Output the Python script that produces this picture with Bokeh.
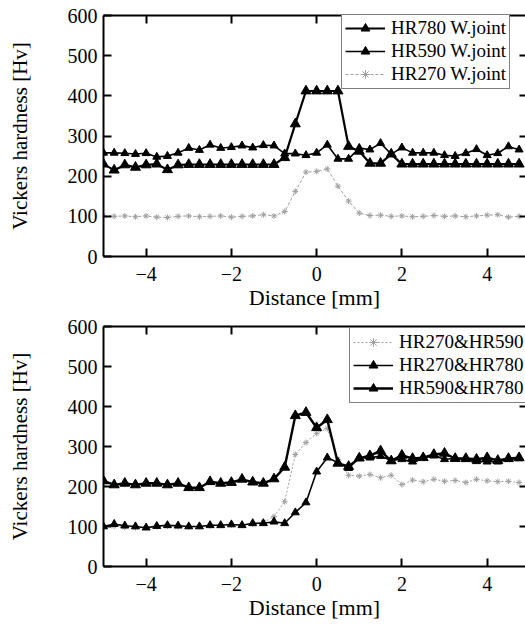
from bokeh.plotting import figure
from bokeh.layouts import column
from bokeh.models import Range1d, FixedTicker, LinearAxis
from bokeh.embed import file_html
from bokeh.resources import INLINE

distance = [-5.0, -4.75, -4.5, -4.25, -4.0, -3.75, -3.5, -3.25, -3.0, -2.75,
            -2.5, -2.25, -2.0, -1.75, -1.5, -1.25, -1.0, -0.75, -0.5, -0.25,
            0.0, 0.25, 0.5, 0.75, 1.0, 1.25, 1.5, 1.75, 2.0, 2.25,
            2.5, 2.75, 3.0, 3.25, 3.5, 3.75, 4.0, 4.25, 4.5, 4.75]

# Top panel: welded joints of the same steel
hr780_joint = [230, 215, 228, 222, 228, 230, 216, 228, 229, 229,
               229, 229, 229, 229, 229, 229, 229, 246, 330, 412,
               412, 412, 412, 274, 262, 232, 232, 255, 230, 230,
               230, 230, 230, 230, 230, 230, 230, 230, 230, 230]
hr590_joint = [258, 258, 257, 255, 257, 248, 250, 258, 270, 265,
               278, 270, 272, 276, 271, 277, 276, 256, 256, 252,
               258, 278, 243, 243, 270, 266, 282, 255, 271, 258,
               258, 258, 252, 250, 257, 267, 252, 257, 274, 266]
hr270_joint = [102, 100, 101, 99, 101, 98, 97, 100, 101, 99,
               100, 101, 98, 100, 101, 104, 101, 112, 162, 210,
               212, 218, 175, 138, 108, 102, 103, 100, 101, 99,
               100, 102, 100, 101, 99, 101, 103, 104, 98, 100]

# Bottom panel: dissimilar joints
hr270_hr590 = [100, 101, 98, 97, 99, 100, 101, 100, 99, 100,
               102, 103, 104, 104, 106, 110, 125, 162, 280, 310,
               333, 345, 268, 228, 226, 230, 222, 228, 205, 216,
               212, 218, 213, 215, 210, 218, 214, 212, 213, 210]
hr270_hr780 = [100, 106, 102, 100, 97, 101, 103, 102, 100, 100,
               103, 103, 105, 103, 108, 108, 112, 108, 135, 160,
               237, 272, 260, 246, 272, 272, 276, 265, 268, 262,
               272, 277, 268, 270, 268, 263, 262, 262, 268, 270]
hr590_hr780 = [214, 204, 208, 204, 208, 208, 204, 208, 197, 197,
               212, 208, 210, 218, 211, 208, 219, 248, 377, 385,
               347, 367, 258, 250, 271, 277, 289, 264, 278, 270,
               272, 280, 283, 270, 270, 268, 272, 265, 270, 272]

x_ticks = [-4, -2, 0, 2, 4]
y_ticks = [0, 100, 200, 300, 400, 500, 600]
right_ticks = [100, 200, 300, 400, 500]

FONT = "Liberation Serif"
GRAY = "#a0a0a0"


def make_fig(height, border_top, border_bottom):
    p = figure(width=525, height=height, output_backend="svg", toolbar_location=None,
               x_range=Range1d(-5, 4.9), y_range=Range1d(0, 600),
               min_border_left=103, min_border_right=0,
               min_border_top=border_top, min_border_bottom=border_bottom)
    p.outline_line_color = None
    p.grid.visible = False
    p.background_fill_color = "white"
    p.border_fill_color = "white"
    for ax in (p.xaxis[0], p.yaxis[0]):
        ax.axis_line_width = 2
        ax.axis_line_color = "black"
        ax.major_tick_in = 8
        ax.major_tick_out = 0
        ax.major_tick_line_width = 2
        ax.minor_tick_line_color = None
        ax.major_label_text_font = FONT
        ax.major_label_text_font_size = "20px"
        ax.major_label_text_color = "black"
        ax.axis_label_text_font = FONT
        ax.axis_label_text_font_style = "normal"
        ax.axis_label_text_color = "black"
    p.xaxis.axis_label_text_font_size = "22px"
    p.yaxis.axis_label_text_font_size = "21px"
    p.xaxis.ticker = FixedTicker(ticks=x_ticks)
    p.yaxis.ticker = FixedTicker(ticks=y_ticks)
    p.xaxis.axis_label = "Distance [mm]"
    p.yaxis.axis_label = "Vickers hardness [Hv]"
    p.xaxis.major_label_standoff = 10
    p.xaxis.axis_label_standoff = 1
    p.yaxis.major_label_standoff = 6
    p.yaxis.axis_label_standoff = 33

    top = LinearAxis(ticker=FixedTicker(ticks=x_ticks), axis_line_width=2,
                     major_tick_in=8, major_tick_out=0, major_tick_line_width=2,
                     minor_tick_line_color=None, major_label_standoff=0,
                     major_label_overrides={t: "" for t in x_ticks})
    p.add_layout(top, "above")
    right = LinearAxis(ticker=FixedTicker(ticks=right_ticks),
                       axis_line_color=None, major_tick_in=6, major_tick_out=0,
                       major_tick_line_width=2, minor_tick_line_color=None,
                       major_label_standoff=0,
                       major_label_overrides={t: "" for t in right_ticks})
    p.add_layout(right, "right")
    return p


def style_legend(p, loc):
    lg = p.legend[0]
    lg.location = loc
    lg.label_text_font = FONT
    lg.label_text_font_size = "19px"
    lg.label_text_color = "black"
    lg.border_line_color = "black"
    lg.border_line_width = 1.5
    lg.background_fill_alpha = 1
    lg.glyph_width = 40
    lg.glyph_height = 22
    lg.label_height = 22
    lg.label_standoff = 6
    lg.padding = 3
    lg.spacing = 1
    lg.margin = 0


p1 = make_fig(315, 15, 59)
p1.line(distance, hr780_joint, line_color="black", line_width=2.2, legend_label="HR780 W.joint")
p1.scatter(distance, hr780_joint, marker="triangle", size=10, color="black", legend_label="HR780 W.joint")
p1.line(distance, hr590_joint, line_color="black", line_width=1.6, legend_label="HR590 W.joint")
p1.scatter(distance, hr590_joint, marker="triangle", size=8, color="black", legend_label="HR590 W.joint")
p1.line(distance, hr270_joint, line_color=GRAY, line_width=1, line_dash="3 2", legend_label="HR270 W.joint")
p1.scatter(distance, hr270_joint, marker="asterisk", size=6, line_color=GRAY, line_width=1, legend_label="HR270 W.joint")
style_legend(p1, (238, 167))

p2 = make_fig(310, 11, 59)
p2.line(distance, hr270_hr590, line_color=GRAY, line_width=1, line_dash="2 2", legend_label="HR270&HR590")
p2.scatter(distance, hr270_hr590, marker="asterisk", size=6, line_color=GRAY, line_width=1, legend_label="HR270&HR590")
p2.line(distance, hr270_hr780, line_color="black", line_width=1.6, legend_label="HR270&HR780")
p2.scatter(distance, hr270_hr780, marker="triangle", size=8, color="black", legend_label="HR270&HR780")
p2.line(distance, hr590_hr780, line_color="black", line_width=2.4, legend_label="HR590&HR780")
p2.scatter(distance, hr590_hr780, marker="triangle", size=10, color="black", legend_label="HR590&HR780")
style_legend(p2, (246, 163))

layout = column(p1, p2, spacing=0)
open("out.html", "w").write(file_html(layout, INLINE))
